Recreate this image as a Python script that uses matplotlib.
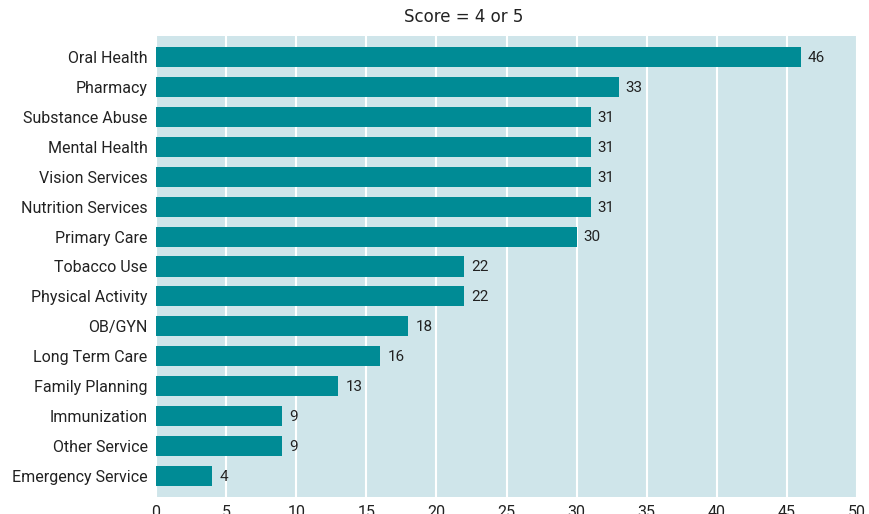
import matplotlib
matplotlib.use('Agg')
import matplotlib.pyplot as plt

categories = ['Oral Health', 'Pharmacy', 'Substance Abuse', 'Mental Health',
              'Vision Services', 'Nutrition Services', 'Primary Care',
              'Tobacco Use', 'Physical Activity', 'OB/GYN', 'Long Term Care',
              'Family Planning', 'Immunization', 'Other Service',
              'Emergency Service']
values = [46, 33, 31, 31, 31, 31, 30, 22, 22, 18, 16, 13, 9, 9, 4]
xticks = [0, 5, 10, 15, 20, 25, 30, 35, 40, 45, 50]

bar_color = '#008b95'
bg_color = '#cfe5ea'
text_color = '#222222'

fig = plt.figure(figsize=(8.69, 5.14), dpi=100)
ax = fig.add_axes([156 / 869, 1 - 497 / 514, (857 - 156) / 869, (497 - 36) / 514])
ax.set_facecolor(bg_color)

y = list(range(len(categories)))
ax.barh(y, values, height=0.67, color=bar_color, zorder=3)
for yi, v in zip(y, values):
    ax.text(v + 0.5, yi + 0.03, str(v), va='center', ha='left', fontsize=11,
            family='Roboto', color=text_color)

ax.set_yticks(y)
ax.set_yticklabels(categories, fontsize=11.5, family='Roboto', color=text_color)
ax.set_ylim(len(categories) - 0.3, -0.7)
ax.set_xlim(0, 50)
ax.set_xticks(xticks)
ax.set_xticklabels([str(t) for t in xticks], fontsize=11.5, family='Roboto',
                   color=text_color)
ax.tick_params(axis='both', length=0, pad=6)
ax.xaxis.grid(True, color='white', linewidth=1.5, zorder=1)
ax.set_axisbelow(True)
for s in ax.spines.values():
    s.set_visible(False)

fig.text(464 / 869, 1 - 17 / 514, 'Score = 4 or 5', ha='center', va='center',
         fontsize=12, color=text_color)

fig.savefig('out.png', dpi=100)
